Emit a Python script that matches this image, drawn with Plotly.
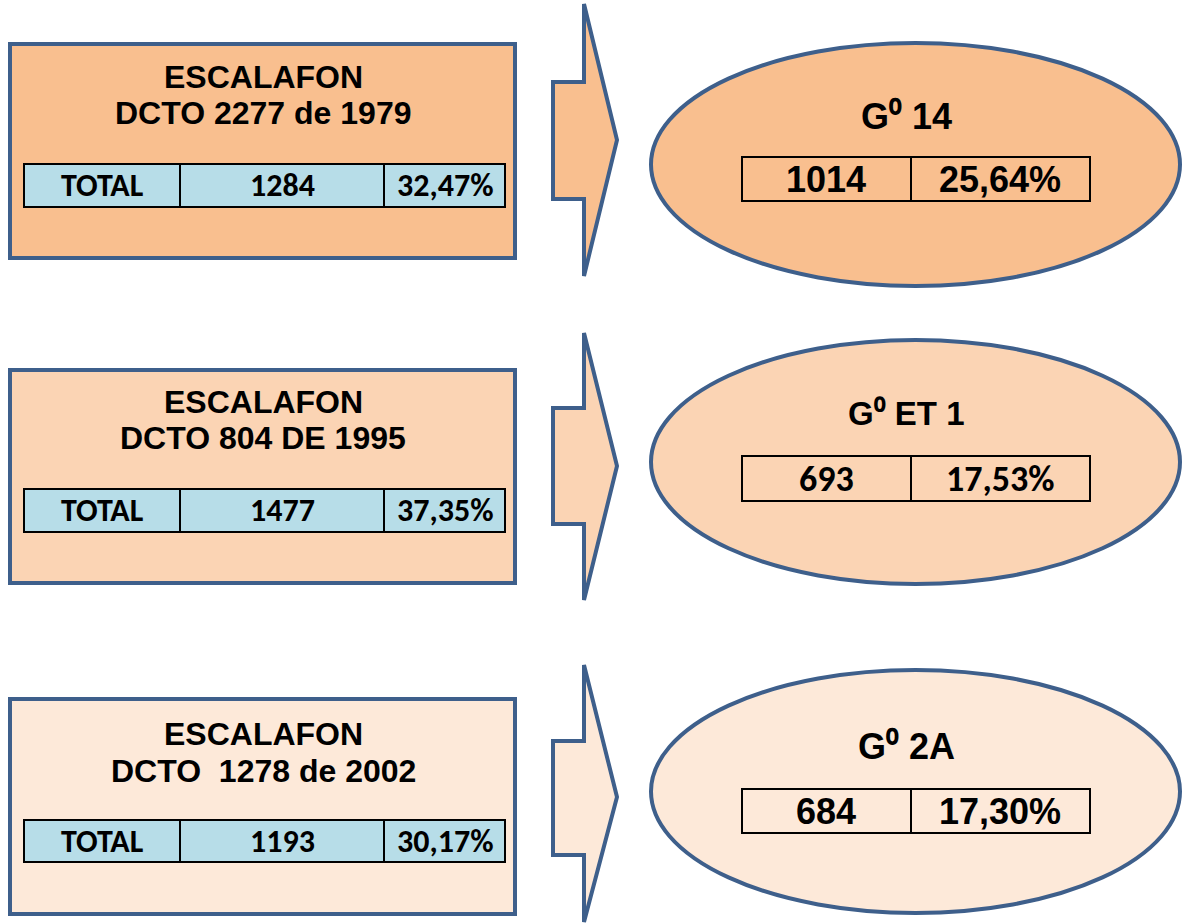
import plotly.graph_objects as go

# ---- data ----
escalafon_label = "ESCALAFON"
decrees = ["DCTO 2277 de 1979", "DCTO 804 DE 1995", "DCTO\u00a0 1278 de 2002"]
total_label = "TOTAL"
totals = [1284, 1477, 1193]
total_pcts = ["32,47%", "37,35%", "30,17%"]
grades = ["G\u2070 14", "G\u2070 ET 1", "G\u2070 2A"]
grade_counts = [1014, 693, 684]
grade_pcts = ["25,64%", "17,53%", "17,30%"]

# ---- styles / layout ----
fills = ["#F9BF8F", "#FBD4B4", "#FDE9D9"]
border = "#3E5F8B"
table_blue = "#B7DDE8"
W, H = 1182, 924

box_y = [(44, 258), (370, 583), (699, 914)]
title_y = [(77, 113), (402, 438), (734, 771)]
ltable_y = [(164, 207), (489, 532), (820, 862)]
arrow_y = [(4, 82, 140, 199, 276), (333, 408, 466, 524, 600), (665, 741, 797, 855, 922)]
ell_y = [(43, 286), (340, 584), (670, 913)]
gtitle_y = [116, 413, 746]
gtable_y = [(157, 201), (456, 501), (789, 833)]

ARIAL = "Liberation Sans, Arial, sans-serif"
CALIBRI = "Carlito, Calibri, Lato, sans-serif"

fig = go.Figure()
shapes = []
ann = []

for i in range(3):
    y0, y1 = box_y[i]
    shapes.append(dict(type="rect", x0=10, x1=515, y0=y0, y1=y1,
                       fillcolor=fills[i], line=dict(color=border, width=4)))
    t1, t2 = title_y[i]
    ann.append(dict(x=263, y=t1, text=f"<b>{escalafon_label}</b>", font=dict(family=ARIAL, size=32, color="black")))
    ann.append(dict(x=263, y=t2, text=f"<b>{decrees[i]}</b>", font=dict(family=ARIAL, size=32, color="black")))
    ty0, ty1 = ltable_y[i]
    shapes.append(dict(type="rect", x0=24, x1=505, y0=ty0, y1=ty1,
                       fillcolor=table_blue, line=dict(color="black", width=2)))
    for xd in (180, 384):
        shapes.append(dict(type="line", x0=xd, x1=xd, y0=ty0, y1=ty1, line=dict(color="black", width=2)))
    cy = (ty0 + ty1) / 2
    tf = dict(family=CALIBRI, size=32, color="black")
    ann.append(dict(x=102, y=cy, text=f"<b>{total_label}</b>", font=tf))
    ann.append(dict(x=282, y=cy, text=f"<b>{totals[i]}</b>", font=tf))
    ann.append(dict(x=445, y=cy, text=f"<b>{total_pcts[i]}</b>", font=tf))

    # arrow
    a_top, s_top, tip, s_bot, a_bot = arrow_y[i]
    path = (f"M 553 {s_top} L 584 {s_top} L 584 {a_top} L 617 {tip} "
            f"L 584 {a_bot} L 584 {s_bot} L 553 {s_bot} Z")
    shapes.append(dict(type="path", path=path, fillcolor=fills[i],
                       line=dict(color=border, width=4)))

    # ellipse
    e0, e1 = ell_y[i]
    shapes.append(dict(type="circle", x0=651, x1=1180, y0=e0, y1=e1,
                       fillcolor=fills[i], line=dict(color=border, width=4)))
    gsize = 33 if i == 1 else 36
    ann.append(dict(x=906, y=gtitle_y[i], text=f"<b>{grades[i]}</b>",
                    font=dict(family=ARIAL, size=gsize, color="black")))
    gy0, gy1 = gtable_y[i]
    shapes.append(dict(type="rect", x0=742, x1=1090, y0=gy0, y1=gy1,
                       fillcolor="rgba(0,0,0,0)", line=dict(color="black", width=2)))
    shapes.append(dict(type="line", x0=911, x1=911, y0=gy0, y1=gy1, line=dict(color="black", width=2)))
    gcy = (gy0 + gy1) / 2
    nf = dict(family=CALIBRI, size=36, color="black") if i == 1 else dict(family=ARIAL, size=36, color="black")
    ann.append(dict(x=826, y=gcy, text=f"<b>{grade_counts[i]}</b>", font=nf))
    ann.append(dict(x=1000, y=gcy, text=f"<b>{grade_pcts[i]}</b>", font=nf))

for a in ann:
    a.update(xref="x", yref="y", showarrow=False, xanchor="center", yanchor="middle")

fig.update_layout(
    width=W, height=H, margin=dict(l=0, r=0, t=0, b=0),
    paper_bgcolor="white", plot_bgcolor="white",
    xaxis=dict(range=[0, W], visible=False, fixedrange=True),
    yaxis=dict(range=[H, 0], visible=False, fixedrange=True),
    shapes=shapes, annotations=ann, showlegend=False,
)
fig.write_html("out.html", config={"displayModeBar": False},
               post_script="document.body.style.margin='0px';")
